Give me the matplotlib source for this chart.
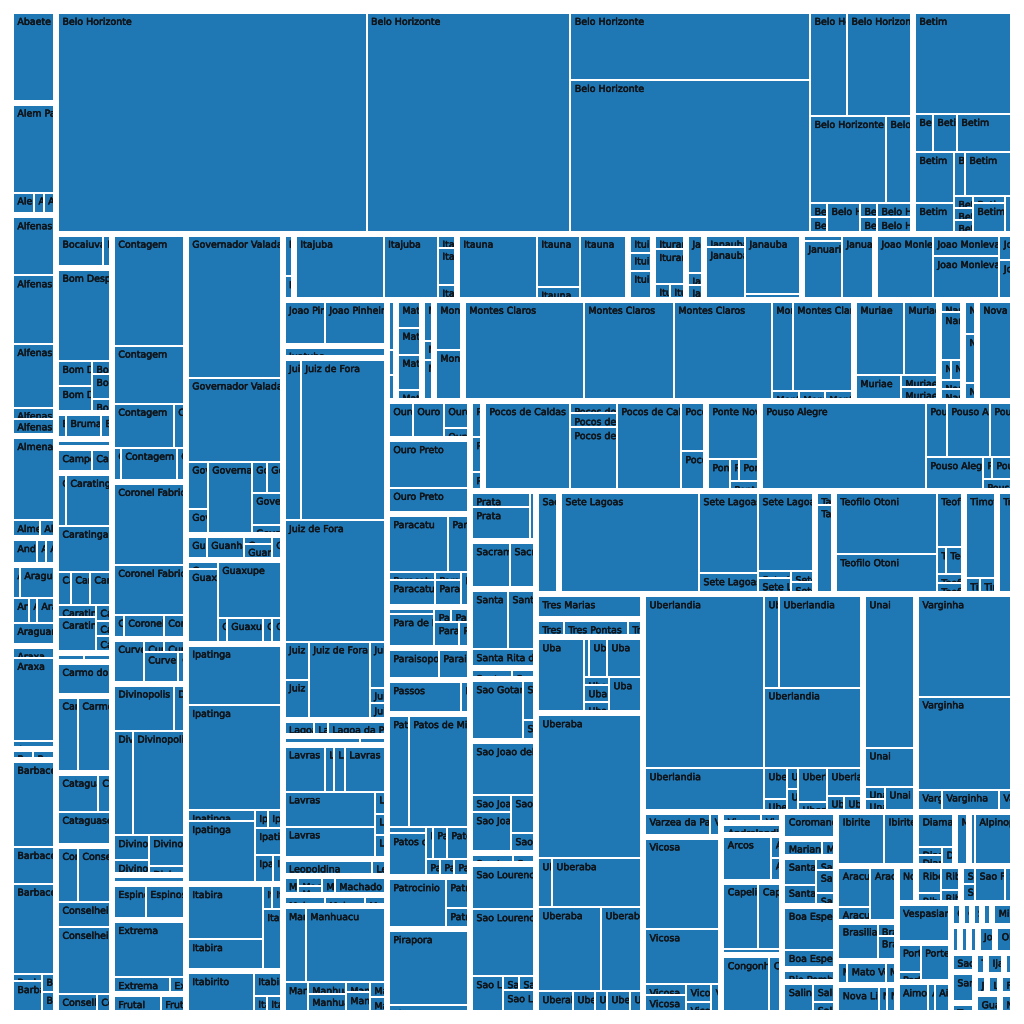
import matplotlib
matplotlib.use("Agg")
import matplotlib.pyplot as plt
from matplotlib.patches import Rectangle
from matplotlib.transforms import Bbox
import matplotlib.patheffects as pe

# ---------------- data ----------------
cities = [
    "Abaete", "Alem Paraiba", "Alfenas", "Almenara", "Andradas", "Araguari", "Araxa", "Bambui", "Barbacena",
    "Belo Horizonte", "Betim",
    "Bocaiuva", "Bom Despacho", "Brumadinho", "Caete", "Campo Belo", "Caratinga", "Carlos Chagas",
    "Carmo do Cajuru", "Carmo do Paranaiba", "Cataguases", "Conselheiro Lafaiete",
    "Contagem", "Coronel Fabriciano", "Curvelo", "Divinopolis", "Dores do Indaia", "Espinosa", "Extrema", "Frutal",
    "Governador Valadares", "Guanhaes", "Guaxupe", "Ipatinga", "Itabira", "Itabirito",
    "Itaguara", "Itajuba", "Itauna", "Ituiutaba", "Iturama", "Jacutinga", "Janauba", "Januaria", "Joao Monlevade",
    "Joao Pinheiro", "Juatuba", "Juiz de Fora", "Lagoa da Prata", "Lagoa Santa", "Lavras", "Leopoldina",
    "Machado", "Malacacheta", "Manhuacu",
    "Mantena", "Mateus Leme", "Matozinhos", "Monte Carmelo", "Montes Claros", "Muriae", "Nanuque",
    "Nepomuceno", "Nova Serrana",
    "Ouro Branco", "Ouro Preto", "Paracatu", "Para de Minas", "Paraisopolis", "Passos", "Patos de Minas",
    "Patrocinio", "Pirapora",
    "Pitangui", "Pocos de Caldas", "Ponte Nova", "Pouso Alegre",
    "Prata", "Sacramento", "Santa Rita do Sapucai", "Santos Dumont", "Sao Gotardo", "Sao Joao del Rei",
    "Sao Joao Nepomuceno", "Sao Lourenco",
    "Sao Sebastiao do Paraiso", "Sete Lagoas", "Taiobeiras", "Teofilo Otoni", "Timoteo", "Tres Coracoes",
    "Tres Marias", "Tres Pontas", "Uba", "Uberaba",
    "Uberlandia", "Unai", "Varginha",
    "Varzea da Palma", "Vicosa",
    "Visconde do Rio Branco", "Andrelandia", "Arcos", "Capelinha", "Congonhas",
    "Coromandel", "Mariana", "Santa Luzia", "Boa Esperanca", "Rio Pomba", "Salinas",
    "Ibirite", "Diamantina", "Minas Novas", "Alpinopolis",
    "Aracuai", "Brasilia de Minas", "Mato Verde", "Nova Lima",
    "Nova Era", "Ribeirao das Neves", "Sao Francisco",
    "Vespasiano", "Porteirinha", "Aimores",
    "Caxambu", "Conselheiro Pena", "Sabara", "Corinto", "Mirai",
    "Itapecerica", "Itamonte", "Lambari", "Joaima", "Oliveira",
    "Sao Goncalo do Sapucai", "Santana do Paraiso", "Tupaciguara", "Turmalina",
    "Ijaci", "Inhapim",
    "Jaiba", "Luz", "Formiga",
    "Guarani", "Novo Cruzeiro",
]

city_values = [
    4127, 5071, 9932, 4590, 1215, 3632, 4617, 509, 11385,
    190854, 22270,
    1904, 8120, 1456, 504, 1383, 10063, 504, 1887, 4312, 4088, 9335,
    18330, 11596, 3308, 14134, 666, 2664, 5476, 1384,
    29107, 2418, 8094, 23237, 8413, 4032,
    746, 10758, 11286, 1650, 2178, 1188, 6468, 4818, 9108,
    4798, 1283, 37684, 1669, 939, 11890, 1846, 1982, 1147, 11129,
    912, 2634, 1216, 2938, 39608, 8611, 2431, 1418, 3647,
    3154, 6225, 7719, 3403, 2656, 2822, 13529, 4316, 6947,
    1170, 20070, 4860, 22770,
    3300, 3168, 5214, 726, 4092, 7392, 726, 9814,
    2369, 26368, 1957, 13390, 3399, 1648,
    2675, 1926, 8132, 32068,
    47740, 11501, 21049,
    1950, 13783,
    671, 732, 2867, 4514, 3520,
    1458, 972, 2646, 3402, 702, 1658,
    4320, 2106, 756, 2376,
    3360, 2400, 1440, 1662,
    740, 1665, 1924,
    2160, 2160, 1658,
    253, 230, 253, 230, 483,
    234, 234, 234, 468, 468,
    476, 728, 252, 244,
    391, 204,
    231, 252, 252,
    460, 240,
]

leaf_sizes = [
    [1], [3596, 440, 200, 215], [58, 68.7, 63.3, 11, 15.7], [3362, 432, 224], [552, 207, 184],
    [215, 1044, 400, 200, 425, 861], [10, 83, 5.6], [146, 153], [3485, 1505, 3690, 212, 861, 216, 228],
    [67578, 44615, 16080, 36408, 3811, 6592, 6612, 2175, 238, 250, 947, 238, 250, 476, 500],
    [9696, 684, 912, 2052, 1989, 1119, 484, 2024, 228, 228, 222, 224, 918, 214],
    [1341, 210], [4732, 850, 850, 234, 450, 216], [176, 770, 198], [1], [704, 373],
    [406, 2231, 2376, 429, 627, 660, 456, 1292, 224, 214, 206], [130, 130], [1], [1460, 2336],
    [1480, 444, 1664], [1074, 1718, 1300, 3468, 663, 221],
    [7679, 4060, 2640, 440, 224, 1792, 224], [5649, 3479, 220, 880, 440], [1221, 214, 214, 1020, 180],
    [2700, 450, 1982, 5319, 865, 455, 1075, 245], [1], [1024, 1216], [3850, 840, 210], [691, 338],
    [13136, 7787, 946, 480, 3137, 465, 425, 918, 238], [399, 777, 196, 392, 183],
    [210, 2181, 3511, 213, 853, 213, 206], [5497, 9734, 737, 4087, 234, 229, 694, 486, 208],
    [3975, 2250, 207, 200, 1062], [2488, 606, 195, 206],
    [292, 156], [5456, 3367, 204, 629, 221], [4836, 2193, 473, 2852], [351, 384, 567],
    [386, 1015, 210, 196], [518, 168, 182], [429, 1989, 3190, 220], [190, 2166, 1922],
    [3472, 1349, 2769, 284, 434],
    [1693, 2520], [1], [2608, 13440, 12166, 923, 923, 4636, 690, 225, 225], [352, 168, 684], [377, 125],
    [1814, 405, 495, 1800, 3160, 2709, 220, 210, 220], [1196, 178], [200, 180, 180, 195, 750],
    [280, 280, 140], [1576, 5846, 669, 445, 646, 240, 449, 225, 206],
    [240, 127, 120], [572, 594, 770, 205], [312, 152, 314], [1200, 1233],
    [11579, 8757, 9535, 1875, 5269, 216, 208, 216], [3518, 2419, 1080, 432, 432],
    [206, 960, 200, 200, 180, 200], [323, 490, 160], [1],
    [816, 1054, 600, 216], [3689, 1920], [3304, 1120, 368, 1150, 208, 650, 231],
    [230, 1472, 221, 221, 600, 216], [1400, 812], [2160, 210],
    [2220, 6549, 222, 1554, 224, 448, 672, 224, 224, 224], [2736, 638, 418], [5846, 450],
    [306, 315, 153], [7310, 470, 658, 2914, 5504, 1104, 874], [2800, 660, 198, 418, 224],
    [14104, 1134, 2322, 1134, 1824, 198, 418, 280],
    [812, 1856, 184], [1672, 1056], [2088, 1508, 1054], [280, 154], [2958, 429, 209],
    [3224, 663, 1521, 874, 414], [287, 147], [2666, 4154, 1076, 224, 210, 642],
    [1], [13662, 4720, 1121, 4290, 231, 462, 242, 220], [180, 1305],
    [6161, 3838, 1350, 243, 432, 225, 225], [2465, 196, 210], [1],
    [1], [364, 896, 182], [3312, 190, 684, 1292, 200, 425, 225, 1088],
    [14729, 686, 4361, 5292, 3360, 690, 433, 236, 453, 217],
    [20432, 4915, 1365, 7462, 7828, 697, 253, 223, 231, 966, 232, 928, 238, 238],
    [7399, 1911, 240, 220, 667], [9300, 8649, 480, 1140, 240],
    [1365, 189], [6734, 4070, 451, 644, 450, 218, 214],
    [266, 133], [1], [2064, 189, 198], [2310, 1452, 228], [2470, 591],
    [1], [532, 168], [832, 608, 198, 414, 198], [2100, 850], [1], [774, 378, 183],
    [2300, 1500], [1155, 192, 216, 187], [1], [200, 1800],
    [1248, 416, 1248], [1404, 204, 408], [180, 760, 180], [948, 190, 190],
    [1], [575, 184, 396, 198], [192, 204, 990, 198],
    [1], [594, 198, 1008], [774, 187, 374],
    [1], [1], [1], [1], [1],
    [1], [1], [1], [1], [1],
    [1], [1], [1], [1],
    [1], [1],
    [1], [1], [1],
    [1], [1],
]

# ---------------- layout (d3-style squarified treemap) ----------------
PHI = (1 + 5 ** 0.5) / 2


def squarify(values, x0, y0, x1, y1, ratio=PHI):
    n = len(values)
    rects = [None] * n
    i0 = i1 = 0
    value = float(sum(values))
    while i0 < n:
        dx, dy = x1 - x0, y1 - y0
        while True:
            sumv = values[i1]
            i1 += 1
            if sumv or i1 >= n:
                break
        minv = maxv = sumv
        alpha = max(dy / dx, dx / dy) / (value * ratio)
        beta = sumv * sumv * alpha
        min_ratio = max(maxv / beta, beta / minv)
        while i1 < n:
            nv = values[i1]
            sumv += nv
            minv = min(minv, nv)
            maxv = max(maxv, nv)
            beta = sumv * sumv * alpha
            new_ratio = max(maxv / beta, beta / minv)
            if new_ratio > min_ratio:
                sumv -= nv
                break
            min_ratio = new_ratio
            i1 += 1
        row = range(i0, i1)
        if dx < dy:  # dice: horizontal band at the top
            ny = y0 + dy * sumv / value if value else y1
            k = (x1 - x0) / sumv
            xx = x0
            for i in row:
                rects[i] = (xx, y0, xx + values[i] * k, ny)
                xx += values[i] * k
            y0 = ny
        else:  # slice: vertical band at the left
            nx = x0 + dx * sumv / value if value else x1
            k = (y1 - y0) / sumv
            yy = y0
            for i in row:
                rects[i] = (x0, yy, nx, yy + values[i] * k)
                yy += values[i] * k
            x0 = nx
        value -= sumv
        i0 = i1
    return rects


def padded(values, box, gap):
    h = gap / 2.0
    x0, y0, x1, y1 = box
    out = []
    for a, b, c, d in squarify(values, x0 - h, y0 - h, x1 + h, y1 + h):
        a, b, c, d = a + h, b + h, c - h, d - h
        if c < a:
            a = c = (a + c) / 2
        if d < b:
            b = d = (b + d) / 2
        out.append((a, b, c, d))
    return out


SIZE = 1024
AREA = (14, 14, 1010, 1010)
CITY_GAP = 6
LEAF_GAP = 2
COLOR = "#1f77b4"
TEXT_COLOR = "#101418"

fig = plt.figure(figsize=(SIZE / 100, SIZE / 100), dpi=100)
ax = fig.add_axes([0, 0, 1, 1])
ax.set_xlim(0, SIZE)
ax.set_ylim(SIZE, 0)
ax.axis("off")

stroke = [pe.withStroke(linewidth=0.35, foreground=TEXT_COLOR)]

city_boxes = padded(city_values, AREA, CITY_GAP)
for name, cbox, sizes in zip(cities, city_boxes, leaf_sizes):
    for (a, b, c, d) in padded(sizes, cbox, LEAF_GAP):
        if c - a <= 0 or d - b <= 0:
            continue
        rect = Rectangle((a, b), c - a, d - b, facecolor=COLOR, edgecolor="none")
        ax.add_patch(rect)
        t = ax.text(a + 3.4, b + 10.8, name, fontsize=6.8, color=TEXT_COLOR,
                    ha="left", va="baseline", family="DejaVu Sans",
                    path_effects=stroke)
        # clip the label to its cell (display coordinates; y axis is inverted)
        t.set_clip_box(Bbox.from_extents(a, SIZE - d, c, SIZE - b))
        t.set_clip_on(True)

fig.savefig("out.png", dpi=100, facecolor="white")
